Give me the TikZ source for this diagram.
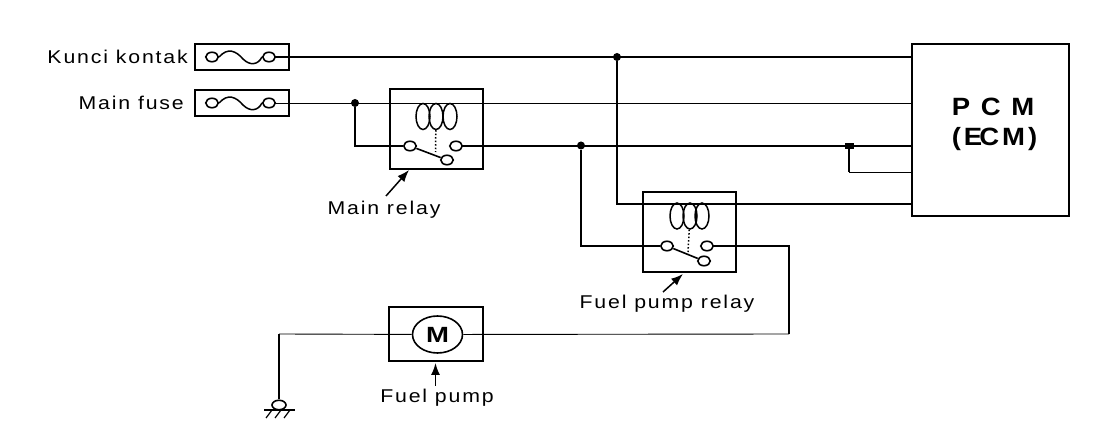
\documentclass[tikz,border=0pt]{standalone}
\usepackage{fontspec}
\setmainfont{Liberation Sans}
\newfontfamily\labelfont[LetterSpace=10,FakeStretch=1.15]{Liberation Sans}
\newfontfamily\ecmfont[LetterSpace=12,FakeStretch=1.1]{Liberation Sans}
\newfontfamily\motorfont[FakeStretch=1.25]{Liberation Sans}
\usetikzlibrary{arrows.meta,positioning,shapes.geometric}

\tikzset{
    unitbox/.style={draw, line width=2pt, rectangle, inner sep=0pt, minimum width=#1},
    contact/.style={draw, line width=1.6pt, ellipse, fill=white, inner sep=0pt, minimum width=12.5pt, minimum height=9.5pt},
    coilloop/.style={draw, line width=1.5pt, ellipse, inner sep=0pt, minimum width=14pt, minimum height=26pt},
    junction/.style={circle, fill=black, inner sep=0pt, minimum size=8pt},
    tag/.style={font=\labelfont\fontsize{18.5}{20}\selectfont, inner sep=0pt},
    ecmtag/.style={font=\ecmfont\bfseries\fontsize{25}{28}\selectfont, inner sep=0pt},
    thinwire/.style={line width=0.9pt},
    midwire/.style={line width=1.6pt},
    thickwire/.style={line width=2.5pt},
    pointer/.style={-{Latex[length=12pt,width=9pt]}, line width=1.5pt},
}

\begin{document}
\begin{tikzpicture}[x=1pt, y=-1pt]
    \useasboundingbox (0,0) rectangle (1117,430);

    % boxes
    \node (kuncibox) [unitbox=94pt, minimum height=26pt] at (242,57) {};
    \node (fusebox) [unitbox=94pt, minimum height=26pt] at (242,103) {};
    \node (mainrelay) [unitbox=93pt, minimum height=80pt] at (436.5,129) {};
    \node (pumprelay) [unitbox=93pt, minimum height=80pt] at (689.5,232) {};
    \node (pumpbox) [unitbox=94pt, minimum height=54pt] at (436,334) {};
    \node (ecm) [unitbox=157pt, minimum height=172pt] at (990.5,130) {};

    % text
    \node (kuncilabel) [tag, left=6pt of kuncibox] {Kunci kontak};
    \node (fuselabel) [tag, left=10pt of fusebox] {Main fuse};
    \node (mainlabel) [tag] at (384,210) {Main relay};
    \node (relaylabel) [tag] at (667,304) {Fuel pump relay};
    \node (pumplabel) [tag] at (437,398) {Fuel pump};
    \node (pcmlabel) [ecmtag] at (993,107) {P C M};
    \node (ecmlabel) [ecmtag] at (994.5,139) {(E\kern-3pt CM)};

    % contacts
    \node (ka) [contact] at (212,57) {};
    \node (kb) [contact] at (269,57) {};
    \node (fa) [contact] at (212,103) {};
    \node (fb) [contact] at (269,103) {};
    \node (mc1) [contact] at (410,146) {};
    \node (mc2) [contact] at (456,146) {};
    \node (mc3) [contact] at (447,160) {};
    \node (pc1) [contact] at (667,246) {};
    \node (pc2) [contact] at (707,246) {};
    \node (pc3) [contact] at (704,261) {};
    \node (motor) [draw, line width=1.6pt, ellipse, inner sep=0pt, minimum width=50pt, minimum height=37pt,
        font=\motorfont\bfseries\fontsize{22}{24}\selectfont] at (437.5,334.5) {M};
    \node (earth) [contact, minimum width=14pt] at (279,405) {};

    % junctions and wire corners
    \node (j1) [junction] at (617,57) {};
    \node (j2) [junction] at (355,103) {};
    \node (j3) [junction] at (581,145.5) {};
    \node (j4) [junction, minimum width=9pt, minimum height=6pt, rectangle] at (849,146) {};
    \coordinate (c1) at (617,204);
    \coordinate (c2) at (355,146);
    \coordinate (c3) at (581,246);
    \coordinate (c4) at (789,246);
    \coordinate (c5) at (789,334);
    \coordinate (c6) at (849,172);
    \coordinate (c7) at (279,334);
    \coordinate (e1) at (912,57);
    \coordinate (e2) at (912,103);
    \coordinate (e3) at (912,146);
    \coordinate (e4) at (912,172);
    \coordinate (e5) at (912,204);

    % wires
    \draw[thickwire] (kb) -- (e1);
    \draw[thinwire] (fb) -- (e2);
    \draw[thickwire] (j2) -- (c2) -- (mc1);
    \draw[thickwire] (mc2) -- (e3);
    \draw[thickwire] (j1) -- (c1) -- (e5);
    \draw[thickwire] (j3) -- (c3) -- (pc1);
    \draw[midwire] (pc2) -- (c4) -- (c5);
    \draw[thinwire] (c5) -- (motor);
    \draw[thinwire] (motor) -- (c7);
    \draw[thickwire] (c7) -- (earth);
    \draw[thickwire] (j4) -- (c6);
    \draw[thinwire] (c6) -- (e4);

    % fuse links and relay switches
    \draw[line width=1.5pt] (ka.east) .. controls (228,47) and (236,51) .. (243,59)
        .. controls (250,66) and (258,65) .. (kb.west);
    \draw[line width=1.5pt] (fa.east) .. controls (228,93) and (236,97) .. (243,105)
        .. controls (250,112) and (258,111) .. (fb.west);
    \draw[midwire] (mc1) -- (mc3);
    \draw[midwire] (pc1) -- (pc3);

    % coils
    \foreach \cx in {423,436,450} {
        \node (ma\cx) [coilloop] at (\cx,116.5) {};
    }
    \foreach \cx in {677,690,702} {
        \node (pa\cx) [coilloop] at (\cx,216) {};
    }
    \coordinate (md) at (435.5,152);
    \coordinate (pd) at (688,252);
    \draw[dotted, line width=1.5pt] (ma436) -- (md);
    \draw[dotted, line width=1.5pt] (pa690) -- (pd);

    % earth symbol
    \coordinate (g1) at (264,410);
    \coordinate (g2) at (295,410);
    \draw[midwire] (g1) -- (g2);
    \foreach \gx in {272,281,290} {
        \draw[line width=1.2pt] (\gx,410) -- ++(-6,8);
    }

    % pointers
    \coordinate (mt) at (409,170);
    \coordinate (mf) at (386,196);
    \coordinate (pt) at (683,274);
    \coordinate (pf) at (663,292);
    \coordinate (ft) at (435.5,363);
    \coordinate (ff) at (435.5,386);
    \draw[pointer] (mf) -- (mt);
    \draw[pointer] (pf) -- (pt);
    \draw[pointer] (ff) -- (ft);
\end{tikzpicture}
\end{document}
